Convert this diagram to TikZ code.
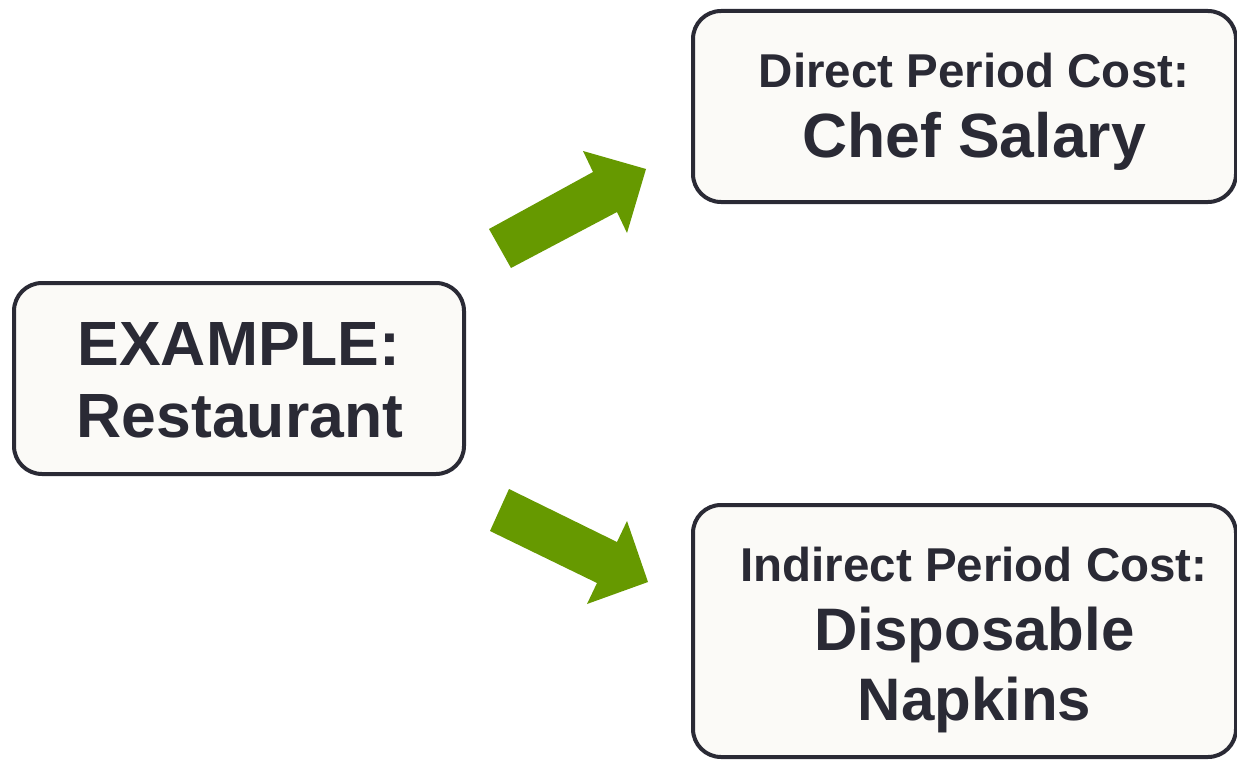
\documentclass[tikz,border=0pt]{standalone}
\usepackage{fontspec}
\setmainfont{Liberation Sans}
\definecolor{inkc}{HTML}{2A2A35}
\definecolor{fillc}{HTML}{FBFAF7}
\definecolor{greenc}{HTML}{669900}
\tikzset{
  box/.style={draw=inkc, fill=fillc, line width=4pt, rounded corners=28pt, inner sep=0pt, outer sep=0pt},
  small/.style={anchor=base, text=inkc, inner sep=0pt, font=\fontsize{47.5}{57}\bfseries\selectfont},
  big/.style={anchor=base, text=inkc, inner sep=0pt, font=\fontsize{62.5}{75}\bfseries\selectfont},
  bigb/.style={anchor=base, text=inkc, inner sep=0pt, font=\fontsize{60}{72}\bfseries\selectfont},
  blockarrow/.style={fill=greenc, draw=none}
}
\begin{document}
\begin{tikzpicture}[x=1pt,y=-1pt]
\useasboundingbox (0,0) rectangle (1237,760);
\clip (0,0) rectangle (1237,760);
% boxes
\node[box, minimum width=450pt, minimum height=191pt] (left) at (239,378.5) {};
\node[box, minimum width=543pt, minimum height=191pt] (top) at (964.5,106.5) {};
\node[box, minimum width=543pt, minimum height=252pt] (bot) at (964.5,631) {};
% texts
\node[big] (l1) at (239,365.5) {EXAMPLE:};
\node[big] (l2) at (240,437) {Restaurant};
\node[small] (t1) at (974,87.3) {Direct Period Cost:};
\node[big] (t2) at (974,157.3) {Chef Salary};
\node[small] (b1) at (974,581) {Indirect Period Cost:};
\node[bigb] (b2) at (974.5,650) {Disposable};
\node[bigb] (b3) at (974.5,720) {Napkins};
% arrows
\fill[blockarrow] (489,229) -- (593,172) -- (583,151) -- (646,169) -- (627,233) -- (617,212) -- (511,268) -- cycle;
\fill[blockarrow] (509,489) -- (617,542) -- (627,521) -- (648,582) -- (587,604) -- (597,583) -- (490,531) -- cycle;
\end{tikzpicture}
\end{document}
